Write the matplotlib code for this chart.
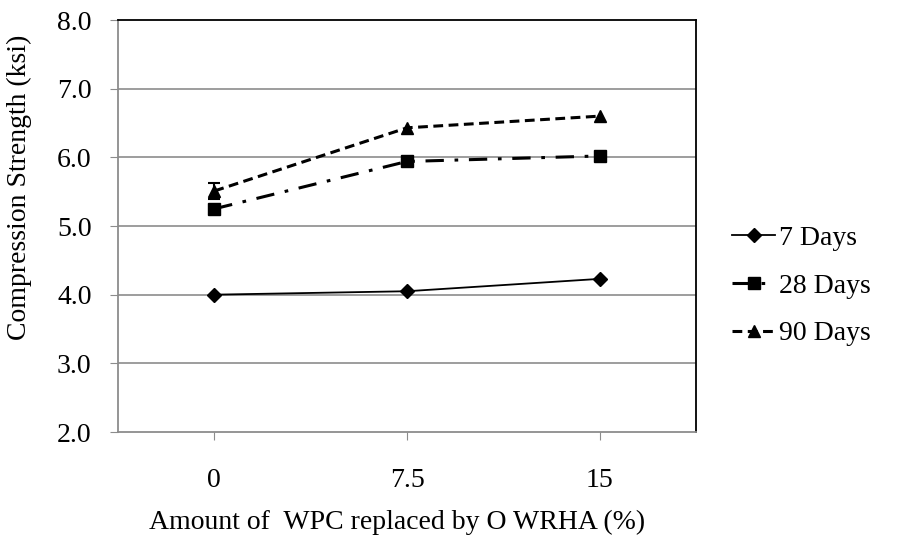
import numpy as np
import matplotlib.pyplot as plt

plt.rcParams['font.family'] = ['Liberation Serif', 'DejaVu Serif']

replacement = ['0', '7.5', '15']
days7 = [4.00, 4.05, 4.23]
days28 = [5.25, 5.94, 6.02]
days90 = [5.51, 6.43, 6.60]
err90 = [0.12, 0.0, 0.0]
y_ticks = [2.0, 3.0, 4.0, 5.0, 6.0, 7.0, 8.0]

fig = plt.figure(figsize=(9.06, 5.5), dpi=100)
ax = fig.add_axes([118 / 906, 1 - 432 / 550, (696 - 118) / 906, (432 - 20) / 550])

x = np.arange(len(replacement))

for y in y_ticks[1:-1]:
    ax.axhline(y, color='#8c8c8c', lw=1.2, zorder=0)

ax.plot(x, days7, color='black', lw=1.3, marker='D', ms=7.5, label='7 Days')
ax.plot(x, days28, color='black', lw=2.2, marker='s', ms=8,
        dashes=(6, 3.5, 1.2, 3.5), label='28 Days')
ax.plot(x, days90, color='black', lw=2.2, marker='^', ms=8,
        dashes=(3.2, 1.8), label='90 Days')
# error bar on the 0 % mix
ax.errorbar(x[:1], days90[:1], yerr=err90[:1], fmt='none', ecolor='black',
            elinewidth=1.5, capsize=4.5, capthick=1.5)

ax.set_xlim(-0.5, 2.5)
ax.set_ylim(2.0, 8.0)
ax.set_xticks(x)
ax.set_xticklabels(replacement)
ax.set_yticks(y_ticks)
ax.set_yticklabels(['%.1f' % v for v in y_ticks])
ax.tick_params(axis='both', labelsize=20, direction='out', color='#8c8c8c', length=6)
ax.tick_params(axis='x', pad=20)
ax.tick_params(axis='y', pad=13)

for s in ['left', 'bottom']:
    ax.spines[s].set_color('#8c8c8c')
    ax.spines[s].set_linewidth(1.3)
for s in ['top', 'right']:
    ax.spines[s].set_color('black')
    ax.spines[s].set_linewidth(1.3)

ax.set_ylabel('Compression Strength (ksi)', fontsize=20)
ax.yaxis.set_label_coords(-0.148, 0.595)
ax.set_xlabel('Amount of  WPC replaced by O WRHA (%)', fontsize=20)
ax.xaxis.set_label_coords(0.483, -0.19)

fig.legend(loc='center left', bbox_to_anchor=(732 / 906, 1 - 286 / 550), frameon=False,
           fontsize=20, handlelength=1.55, handletextpad=0.15, labelspacing=0.8,
           borderpad=0, borderaxespad=0)

fig.savefig('out.png', dpi=100)
